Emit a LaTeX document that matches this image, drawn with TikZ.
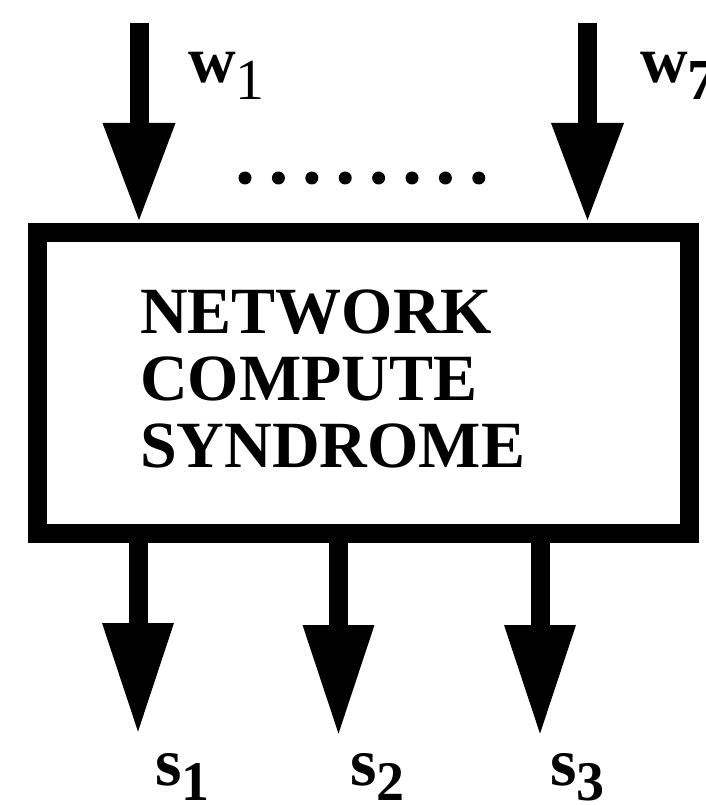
\documentclass[tikz,border=0pt]{standalone}
\usepackage{fontspec}
\setmainfont{Liberation Serif}
\usetikzlibrary{arrows.meta}
\begin{document}
\begin{tikzpicture}[x=1pt,y=-1pt,
  inwire/.style={line width=19pt, -{Triangle[length=100pt,width=67pt]}},
  outwire/.style={line width=19pt, -{Triangle[length=112pt,width=66pt]}},
  sig/.style={anchor=base west, inner sep=0pt, font=\bfseries\fontsize{66}{66}\selectfont},
]
\useasboundingbox (0,0) rectangle (705,805);

% the syndrome network block
\node[draw, line width=19pt, minimum width=651.5pt, minimum height=300.5pt,
      inner sep=0pt] (net) at (363.25,382.75) {};
% anchored at the baseline of its last line
\node[anchor=base west, align=left, inner sep=0pt,
      font=\bfseries\fontsize{66}{67}\selectfont] (title) at (140,467)
  {NETWORK\\COMPUTE\\SYNDROME};

% inputs
\coordinate (w1in) at (139,23);
\coordinate (w7in) at (587.5,23);
\draw[inwire] (w1in) -- (w1in |- net.north);
\draw[inwire] (w7in) -- (w7in |- net.north);
\node[sig] (w1) at (188,83)
  {w{\mdseries\fontsize{58}{58}\selectfont\raisebox{-17pt}{1}}};
\node[sig] (w7) at (640,83)
  {w{\fontsize{58}{58}\selectfont\raisebox{-17pt}{7}}};

% ellipsis between the inputs
\foreach \i in {0,...,7}
  \fill (245+33.4*\i,178) circle (6.5pt);

% outputs
\coordinate (s1out) at (138,735);
\coordinate (s2out) at (338.5,737);
\coordinate (s3out) at (540,737);
\draw[outwire] (s1out |- net.south) -- (s1out);
\draw[outwire] (s2out |- net.south) -- (s2out);
\draw[outwire] (s3out |- net.south) -- (s3out);
\node[sig, font=\bfseries\fontsize{68}{68}\selectfont] (s1) at (155,785)
  {s{\fontsize{56}{56}\selectfont\raisebox{-15pt}{1}}};
\node[sig, font=\bfseries\fontsize{68}{68}\selectfont] (s2) at (350,785)
  {s{\fontsize{56}{56}\selectfont\raisebox{-15pt}{2}}};
\node[sig, font=\bfseries\fontsize{68}{68}\selectfont] (s3) at (550,785)
  {s{\fontsize{56}{56}\selectfont\raisebox{-15pt}{3}}};
\end{tikzpicture}
\end{document}
